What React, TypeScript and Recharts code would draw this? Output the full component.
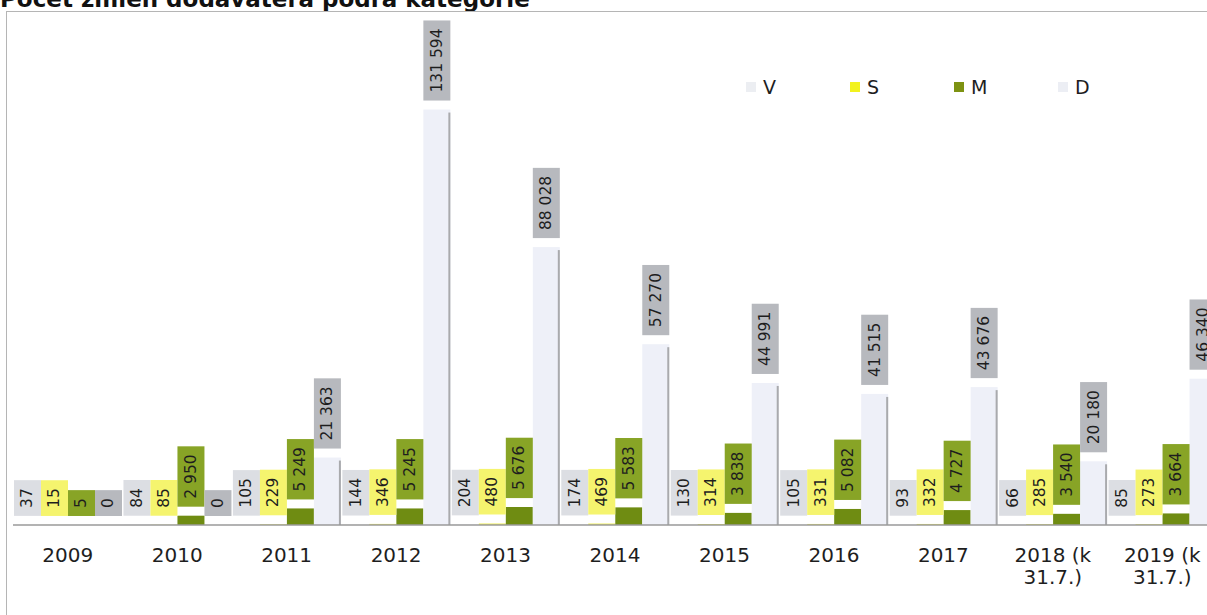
import React from 'react';
import { BarChart, Bar, XAxis, YAxis, LabelList, Legend } from 'recharts';

const categories = ['2009', '2010', '2011', '2012', '2013', '2014', '2015', '2016', '2017', '2018 (k\n31.7.)', '2019 (k\n31.7.)'];
const seriesV = [37, 84, 105, 144, 204, 174, 130, 105, 93, 66, 85];
const seriesS = [15, 85, 229, 346, 480, 469, 314, 331, 332, 285, 273];
const seriesM = [5, 2950, 5249, 5245, 5676, 5583, 3838, 5082, 4727, 3540, 3664];
const seriesD = [0, 0, 21363, 131594, 88028, 57270, 44991, 41515, 43676, 20180, 46340];
const seriesNames = ['V', 'S', 'M', 'D'];

const data = categories.map((c, i) => ({ cat: c, V: seriesV[i], S: seriesS[i], M: seriesM[i], D: seriesD[i] }));

const barFill: Record<string, string> = { V: '#f1f2f6', S: '#eeee55', M: '#6f8c12', D: '#eef0f8' };
const boxFill: Record<string, string> = { V: '#dcdee3', S: '#f5f46e', M: '#88a426', D: '#b7b9be' };
const legendFill: Record<string, string> = { V: '#eceef2', S: '#f2f21e', M: '#7d9212', D: '#eceef4' };

const FONT = '"DejaVu Sans", Verdana, sans-serif';

const fmt = (n: number) => String(n).replace(/\B(?=(\d{3})+(?!\d))/g, ' ');

const textLen = (s: string, fs: number) => {
  let w = 0;
  for (const ch of s) w += ch === ' ' ? 0.318 : 0.636;
  return w * fs;
};

const makeLabel = (key: string) => (props: any) => {
  const vb = props.viewBox || props;
  const x = Number(vb.x ?? props.x);
  const y = Number(vb.y ?? props.y);
  const w = Number(vb.width ?? props.width);
  const h = Number(vb.height ?? props.height);
  const top = Math.min(y, y + h);
  const s = fmt(Number(props.value));
  const fs = 15.5;
  const pad = 8;
  const gap = 9;
  const boxH = textLen(s, fs) + pad * 2;
  const bottom = top - gap;
  const cx = x + w / 2;
  const cy = bottom - boxH / 2;
  return (
    <g>
      <rect x={x} y={bottom - boxH} width={w} height={boxH} fill={boxFill[key]} />
      <text
        x={cx}
        y={cy}
        transform={`rotate(-90 ${cx} ${cy})`}
        textAnchor="middle"
        dominantBaseline="central"
        fontSize={fs}
        fontFamily={FONT}
        fill="#1e1e1e"
      >
        {s}
      </text>
    </g>
  );
};

const DShape = (props: any) => {
  const { x, y, width, height } = props;
  if (!height || height <= 0) return null;
  return (
    <g>
      <rect x={x} y={y} width={width} height={height} fill={barFill.D} />
      <rect x={x + width - 2} y={y + 3} width={2} height={height - 3} fill="#a9aaad" />
    </g>
  );
};

const Tick = (props: any) => {
  const { x, y, payload } = props;
  const lines = String(payload.value).split('\n');
  return (
    <g>
      {lines.map((l, i) => (
        <text key={i} x={x} y={y + 37 + i * 22} textAnchor="middle" fontSize={20} fontFamily={FONT} fill="#1e1e1e">
          {l}
        </text>
      ))}
    </g>
  );
};

const LegendContent = () => (
  <div style={{ position: 'relative', width: 500, height: 30 }}>
    {seriesNames.map((n, i) => (
      <div key={n} style={{ position: 'absolute', left: i * 104, top: 0, display: 'flex', alignItems: 'center', height: 24 }}>
        <span style={{ display: 'inline-block', width: 10, height: 10, background: legendFill[n], marginRight: 7 }} />
        <span style={{ fontSize: 19, fontFamily: FONT, color: '#1e1e1e' }}>{n}</span>
      </div>
    ))}
  </div>
);

export default function App() {
  return (
    <div style={{ position: 'absolute', left: 0, top: 0, width: 1207, height: 615, overflow: 'hidden', background: '#fff' }}>
      <div
        style={{
          position: 'absolute',
          left: 0,
          top: -12,
          fontFamily: FONT,
          fontWeight: 'bold',
          fontSize: 23,
          lineHeight: '23px',
          color: '#111',
          whiteSpace: 'nowrap',
        }}
      >
        Počet zmien dodávateľa podľa kategórie
      </div>
      <div
        style={{
          position: 'absolute',
          left: 6,
          top: 11,
          width: 1400,
          height: 800,
          borderTop: '1px solid #b5b5b5',
          borderLeft: '1px solid #b5b5b5',
        }}
      />
      <div style={{ position: 'absolute', left: 0, top: 0 }}>
        <BarChart
          width={1230}
          height={615}
          data={data}
          margin={{ top: 83, right: 13, bottom: 30, left: 13 }}
          barCategoryGap={1}
          barGap={0}
        >
          <XAxis
            dataKey="cat"
            height={60}
            tickLine={false}
            tickSize={0}
            tickMargin={0}
            axisLine={{ stroke: '#9a9a9a', strokeWidth: 1.5 }}
            tick={<Tick />}
            interval={0}
          />
          <YAxis hide domain={[0, 140000]} />
          <Legend
            layout="horizontal"
            verticalAlign="middle"
            align="center"
            content={<LegendContent />}
            wrapperStyle={{ position: 'absolute', left: 746, top: 75, width: 500, height: 30 }}
          />
          <Bar dataKey="V" fill={barFill.V} isAnimationActive={false}>
            <LabelList dataKey="V" content={makeLabel('V')} />
          </Bar>
          <Bar dataKey="S" fill={barFill.S} isAnimationActive={false}>
            <LabelList dataKey="S" content={makeLabel('S')} />
          </Bar>
          <Bar dataKey="M" fill={barFill.M} isAnimationActive={false}>
            <LabelList dataKey="M" content={makeLabel('M')} />
          </Bar>
          <Bar dataKey="D" fill={barFill.D} shape={<DShape />} isAnimationActive={false}>
            <LabelList dataKey="D" content={makeLabel('D')} />
          </Bar>
        </BarChart>
      </div>
    </div>
  );
}
